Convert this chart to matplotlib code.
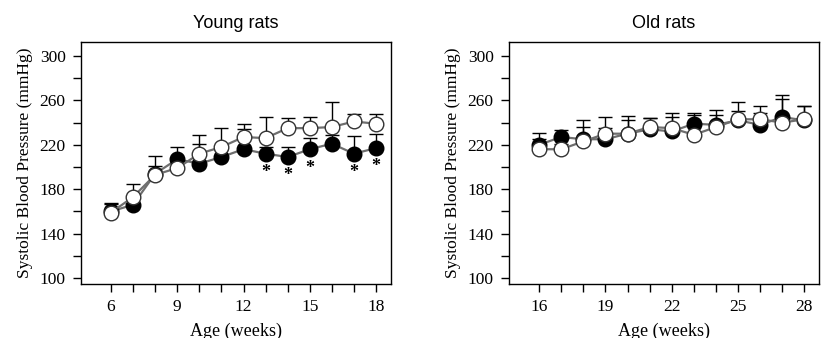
import numpy as np
import matplotlib
matplotlib.use("Agg")
import matplotlib.pyplot as plt
from matplotlib.ticker import MultipleLocator

# young rats, weeks 6-18
weeks_young = [6, 7, 8, 9, 10, 11, 12, 13, 14, 15, 16, 17, 18]
young_filled = [160, 166, 194, 207, 203, 209, 216, 212, 209, 216, 221, 212, 217]
young_filled_sem = [8, 5, 7, 11, 18, 6, 18, 6, 9, 10, 8, 16, 13]
young_open = [159, 173, 193, 199, 212, 218, 227, 226, 235, 235, 236, 241, 239]
young_open_sem = [8, 12, 17, 5, 17, 17, 12, 19, 9, 10, 23, 7, 9]
star_weeks = [13, 14, 15, 17, 18]

# old rats, weeks 16-28
weeks_old = [16, 17, 18, 19, 20, 21, 22, 23, 24, 25, 26, 27, 28]
old_filled = [220, 227, 225, 225, 230, 234, 232, 239, 238, 242, 238, 245, 242]
old_filled_sem = [11, 6, 11, 10, 12, 10, 13, 10, 9, 8, 11, 20, 13]
old_open = [216, 216, 223, 230, 230, 236, 235, 229, 236, 243, 243, 240, 243]
old_open_sem = [9, 5, 19, 15, 16, 8, 14, 18, 15, 16, 12, 21, 12]

serif = ["Liberation Serif", "DejaVu Serif"]
sans = ["Liberation Sans", "DejaVu Sans"]

fig = plt.figure(figsize=(8.22, 3.38), dpi=100)
H = 338.0
W = 822.0
ax1 = fig.add_axes([81 / W, (H - 284) / H, 310 / W, 242 / H])
ax2 = fig.add_axes([509 / W, (H - 284) / H, 310 / W, 242 / H])


def panel(ax, x, yf, ef, yo, eo, xlim, xticks, title):
    x = np.array(x)
    yf = np.array(yf)
    yo = np.array(yo)
    ax.errorbar(x, yf, yerr=[np.zeros(len(x)), ef], fmt="none", ecolor="black",
                elinewidth=1, capsize=5, capthick=1, zorder=2)
    ax.errorbar(x, yo, yerr=[np.zeros(len(x)), eo], fmt="none", ecolor="black",
                elinewidth=1, capsize=5, capthick=1, zorder=2)
    ax.plot(x, yf, "-", color="#6e6e6e", lw=1.6, marker="o", ms=10.5,
            mfc="black", mec="black", mew=1, zorder=3)
    ax.plot(x, yo, "-", color="#6e6e6e", lw=1.6, marker="o", ms=10.5,
            mfc="white", mec="#333333", mew=1, zorder=4)
    ax.set_xlim(*xlim)
    ax.set_ylim(94.6, 312.6)
    ax.set_xticks(np.arange(x[0], x[-1] + 1, 1))
    ax.set_xticklabels([str(v) if v in xticks else "" for v in np.arange(x[0], x[-1] + 1, 1)])
    ax.set_yticks([100, 140, 180, 220, 260, 300])
    ax.yaxis.set_minor_locator(MultipleLocator(20))
    ax.tick_params(axis="both", which="both", direction="out", length=6,
                   width=1, labelsize=12.5, pad=5)
    for lab in ax.get_xticklabels() + ax.get_yticklabels():
        lab.set_family(serif)
    for s in ax.spines.values():
        s.set_linewidth(1)
    ax.set_xlabel("Age (weeks)", family=serif, fontsize=13, labelpad=5)
    ax.set_ylabel("Systolic Blood Pressure (mmHg)", family=serif, fontsize=12.5, labelpad=5)
    ax.set_title(title, family=sans, fontsize=13, pad=10)


panel(ax1, weeks_young, young_filled, young_filled_sem, young_open, young_open_sem,
      (4.64, 18.68), [6, 9, 12, 15, 18], "Young rats")
panel(ax2, weeks_old, old_filled, old_filled_sem, old_open, old_open_sem,
      (14.64, 28.66), [16, 19, 22, 25, 28], "Old rats")

for w in star_weeks:
    i = weeks_young.index(w)
    ax1.text(w, young_filled[i] - 17, "*", ha="center", va="center",
             fontsize=13, fontweight="bold", family=serif)

fig.savefig("out.png", dpi=100)
